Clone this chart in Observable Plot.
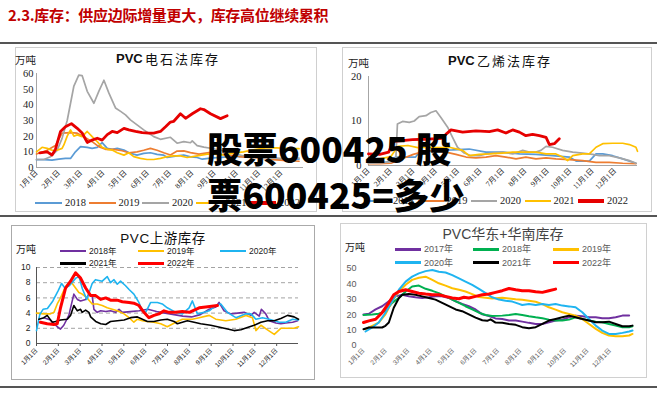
<!DOCTYPE html>
<html><head><meta charset="utf-8">
<script src="https://cdn.jsdelivr.net/npm/d3@7"></script>
<script src="https://cdn.jsdelivr.net/npm/@observablehq/plot@0.6"></script>
<style>
body{margin:0;background:#fff;}
#page{position:relative;width:665px;height:400px;overflow:hidden;background:#fff;font-family:'Noto Sans CJK SC',sans-serif;}
.abs{position:absolute;white-space:nowrap;line-height:1;}
.frame{position:absolute;box-sizing:border-box;pointer-events:none;}
</style></head><body><div id="page"></div>
<script>
// ---------------- DATA ----------------
const monthLabels = ["1月1日","2月1日","3月1日","4月1日","5月1日","6月1日","7月1日","8月1日","9月1日","10月1日","11月1日","12月1日"];
const headline = "2.3.库存：供应边际增量更大，库存高位继续累积";
const overlayLines = ["股票600425 股", "票600425=多少"];

// chart 1: PVC电石法库存 (x = month index from 1月1日, y = 万吨)
const elecYears = ["2018","2019","2020","2021","2022"];
const elec2018 = [[0,5],[0.33,5],[0.70,4.7],[1.0,5.4],[1.30,5.8],[1.53,5.8],[1.75,10],[1.98,13.3],[2.28,12.8],[2.50,12.2],[2.73,12.8],[2.95,15.9],[3.18,12.2],[3.40,11.6],[3.63,12.2],[3.93,11.1],[4.22,9],[4.52,7.9],[4.82,9],[5.12,9.4],[5.42,8.4],[5.72,7.9],[5.87,6.4],[6.32,7.4],[6.62,8],[6.92,6.8],[7.22,6.4],[7.45,5.3],[7.82,6],[8.3,6.5],[8.8,7],[9.3,7],[9.8,6.5],[10.3,6],[10.8,5.5],[11.3,5.5],[11.8,5.3]];
const elec2019 = [[0,8.6],[0.48,11],[0.85,14],[1.15,21.9],[1.53,22.3],[1.83,21.9],[2.13,19.7],[2.50,16.5],[2.80,13.3],[3.10,11.6],[3.48,11.6],[3.85,10.7],[4.15,9.4],[4.52,10],[4.82,11],[5.12,12.2],[5.42,11],[5.72,9.4],[6.02,8],[6.32,10.5],[6.62,10.6],[6.92,9.5],[7.30,8.5],[7.75,9.5],[8.1,8.5],[8.6,8],[9.1,7],[9.6,6.5],[10.1,6],[10.6,5],[11.1,4.5],[11.8,4]];
const elec2020 = [[0,5.1],[0.33,5.1],[0.63,6.9],[0.93,11],[1.15,18.6],[1.38,30],[1.68,52],[1.90,59],[2.05,58.7],[2.28,48.6],[2.58,41],[2.80,48.6],[3.03,55.7],[3.25,47.6],[3.55,38],[3.78,35.8],[4.0,33.6],[4.22,30.4],[4.52,27.2],[4.82,24],[5.27,19.7],[5.57,18],[6.02,19.3],[6.32,15.5],[6.62,16.5],[6.92,15.8],[7.0,17],[7.22,14],[7.52,13],[7.82,12.3],[8.3,11],[8.8,9],[9.3,7.5],[9.8,6.5],[10.3,6],[10.8,6],[11.3,5.5],[11.8,6]];
const elec2021 = [[0,10],[0.25,12.9],[0.48,12.2],[0.70,11],[0.93,11],[1.15,12.2],[1.23,14.4],[1.38,20],[1.53,24],[1.68,20],[1.83,20.8],[2.05,19.7],[2.28,23],[2.50,19.7],[2.73,16.5],[2.95,12.9],[3.18,11.6],[3.40,11.1],[3.63,9.4],[3.93,7.9],[4.15,9.4],[4.37,6.9],[4.67,5.8],[4.97,5.1],[5.27,5.1],[5.57,5.8],[5.87,6.9],[6.17,7.4],[6.47,7.4],[6.77,6.4],[7.22,7.4],[7.67,8.5],[8.0,8.5],[8.4,8],[8.8,9],[9.3,10],[9.8,11.5],[10.3,12.5],[10.8,12.5],[11.3,12],[11.8,12]];
const elec2022 = [[0.15,9.4],[0.48,10],[0.70,8],[0.85,11.5],[1.08,23],[1.30,26],[1.57,28],[1.83,25],[2.05,22],[2.28,16],[2.50,17.5],[2.73,18.7],[2.95,17.5],[3.18,21],[3.40,23],[3.63,22.3],[3.93,25],[4.15,24],[4.45,23],[4.75,22.3],[5.05,22],[5.27,22],[5.57,23],[5.80,26],[6.02,29],[6.17,29.5],[6.47,34.3],[6.70,31.4],[7.0,34.3],[7.37,37.5],[7.52,37],[7.82,34.3],[8.27,31.2],[8.57,33]];

// chart 2: PVC乙烯法库存
const ethYears = ["2018","2019","2020","2021","2022"];
const eth2018 = [[0,0.7],[0.77,0.7],[1.0,1.3],[1.22,1.9],[1.82,1.9],[2.1,1.9],[2.26,3],[3.01,3.4],[3.75,3.5],[4.49,3.7],[5.24,3],[5.98,3],[6.73,2.6],[7.47,2.5],[8.21,2.2],[8.96,1.9],[9.26,1],[9.85,1],[10.15,2.6],[10.45,2.6],[10.89,2.2],[11.34,1.5],[11.93,0.5]];
const eth2019 = [[0,0.4],[0.5,0.4],[1.0,0.5],[1.5,1.5],[2.0,2.5],[2.5,3.2],[3.01,3.4],[3.45,3],[3.90,2.5],[4.35,1.9],[4.79,1.7],[5.24,1.9],[5.68,2.2],[6.13,1.9],[6.58,1.5],[7.02,1.9],[7.47,1.5],[7.92,1.7],[8.36,1.5],[8.96,1.3],[9.55,1.1],[10.15,0.7],[10.74,0.7],[11.34,0.5],[11.93,0.4]];
const eth2020 = [[0,0.5],[0.5,0.6],[1.0,0.8],[1.22,1.5],[1.29,9.3],[1.52,9.9],[1.82,9.7],[2.04,10],[2.26,11],[2.56,11.2],[2.78,11.9],[3.01,12.3],[3.23,10.8],[3.53,8.6],[3.75,6.3],[3.97,4.1],[4.27,2.8],[4.57,2.2],[4.94,2.2],[5.24,2.6],[5.54,2.8],[5.98,3],[6.43,2.6],[6.88,3.4],[7.17,3],[7.47,3],[7.69,3.4],[7.92,4.3],[8.21,4.1],[8.66,3.4],[9.11,3],[9.55,2.8],[10.0,2.5],[10.30,2.2],[10.74,2.2],[11.19,1.7],[11.64,1.1],[11.93,0.5]];
const eth2021 = [[0,1.2],[0.5,1.5],[1.0,2],[1.31,4.3],[1.76,4.5],[2.2,4],[2.65,4.1],[3.24,4],[3.60,4.1],[4.20,3.4],[4.49,2.2],[4.94,2.5],[5.39,2.6],[5.98,2.8],[6.43,3],[6.88,3],[7.47,3],[7.92,2.6],[8.36,2.6],[8.66,1.9],[8.88,1.1],[9.11,2.2],[9.55,2.6],[9.85,2.6],[10.15,4.1],[10.45,4.9],[10.89,5],[11.34,5],[11.64,4.7],[11.93,4.1],[12.0,3.2]];
const eth2022 = [[0,2.6],[0.5,2.5],[0.9,3],[1.1,5.4],[1.5,5.6],[1.96,5.8],[2.5,5.9],[2.86,6],[3.3,6.1],[3.45,7],[3.68,8],[4.20,7.5],[4.79,7.8],[5.39,7.6],[5.76,8],[6.13,7.3],[6.43,8],[6.73,7.5],[7.02,6.7],[7.32,7],[7.62,6.7],[7.92,6.3],[8.07,4.7],[8.29,4.9],[8.51,6]];

// chart 3: PVC上游库存
const upYears = ["2018年","2019年","2020年","2021年","2022年"];
const up2018 = [[0.34,3.4],[0.64,3.1],[0.95,2.2],[1.10,1.9],[1.25,2.4],[1.48,3.7],[1.71,6.5],[1.87,5.8],[2.02,5.6],[2.25,5.8],[2.40,6.5],[2.55,6.3],[2.63,4.5],[2.78,4.1],[2.94,4.3],[3.17,4.2],[3.39,4.3],[3.62,4.1],[3.78,4.5],[3.93,4.1],[4.3,4.2],[4.7,4.3],[5.1,4.5],[5.5,4.2],[5.9,4.0],[6.3,3.8],[6.7,3.6],[7.1,3.5],[7.5,3.8],[7.91,4.5],[8.21,4.8],[8.36,5.4],[8.59,4.3],[8.90,3.9],[9.21,4],[9.51,4.1],[9.82,3.7],[9.97,4.1],[10.2,3.6],[10.3,4.5],[10.5,3.9],[10.66,3],[10.96,2.7],[11.19,2.6],[11.42,2.7],[11.73,2.8],[11.96,3]];
const up2019 = [[0,4],[0.34,3.9],[0.64,3.9],[0.80,4.1],[0.95,5.2],[1.10,6],[1.33,7.5],[1.56,8.2],[1.79,7.3],[1.94,6.7],[2.09,6.5],[2.32,6],[2.55,5.2],[2.78,5.2],[3.01,5],[3.24,4.7],[3.47,4.5],[3.70,4.3],[4.01,3.9],[4.24,3.4],[4.46,2.8],[4.62,3.2],[4.85,3],[5.08,2.9],[5.38,2.8],[5.69,2.6],[5.99,2.2],[6.38,2.8],[6.68,3.2],[7.14,3.2],[7.45,3.4],[7.91,3.7],[8.21,3.2],[8.67,3],[9.13,3.2],[9.59,3.7],[9.89,3.4],[10.05,1.7],[10.28,2.4],[10.58,1.8],[10.89,1.2],[11.19,2],[11.50,2],[11.80,2],[12.0,2.2]];
const up2020 = [[0,1.7],[0.15,3.8],[0.3,4.5],[0.5,4.6],[0.75,5.6],[1.0,7],[1.15,7.9],[1.3,7.3],[1.5,7.6],[1.8,8.6],[1.95,8.8],[2.1,7.2],[2.3,5.8],[2.55,7.9],[2.7,8.4],[3.01,8.2],[3.24,8.8],[3.39,8],[3.55,8.4],[3.70,7.8],[3.85,8.2],[4.08,7.6],[4.24,7.1],[4.46,6.5],[4.69,5.4],[4.85,4.3],[5.0,4.1],[5.23,5.4],[5.54,5.4],[5.76,5.2],[5.99,4.7],[6.38,4.1],[6.68,3.9],[6.99,4.7],[7.14,5.6],[7.37,3.9],[7.68,4.1],[7.91,4.3],[8.21,5],[8.44,5.2],[8.74,4.1],[9.13,3.4],[9.59,3.9],[9.82,3.9],[10.05,3.2],[10.35,3.4],[10.66,3.2],[11.12,2.8],[11.42,2.8],[11.73,3.2],[12.0,3.1]];
const up2021 = [[0.11,3.2],[0.34,3.4],[0.49,3.7],[0.72,2.8],[0.87,2.9],[1.10,3.1],[1.41,3.2],[1.56,3.7],[1.71,5.0],[1.87,4.3],[2.02,4.5],[2.09,4.1],[2.25,4.4],[2.40,4.1],[2.48,3.5],[2.71,2.9],[2.94,2.6],[3.17,2.5],[3.39,2.9],[3.70,3],[4.01,3.1],[4.31,3.4],[4.62,3.5],[4.85,3.2],[5.08,2.9],[5.38,2.9],[5.69,3.1],[5.99,3.2],[6.30,2.9],[6.45,2.6],[6.91,3],[7.22,2.8],[7.52,2.6],[7.98,2.4],[8.29,2.2],[8.75,1.9],[9.05,1.7],[9.36,1.8],[9.66,2.1],[9.97,2.4],[10.28,2.8],[10.58,3],[10.89,3],[11.19,3.3],[11.50,3.7],[11.80,3.5],[12.0,3.2]];
const up2022 = [[0.18,2.8],[0.49,2.6],[0.80,2.5],[0.95,2.6],[1.10,4.7],[1.33,7.3],[1.56,8.2],[1.79,9.3],[2.02,8.6],[2.25,7.3],[2.48,6.3],[2.71,6.3],[2.94,5.8],[3.17,6],[3.39,5.7],[3.70,5.7],[3.93,5.5],[4.24,5.4],[4.46,5.3],[4.69,5],[4.92,4.1],[5.15,3.4],[5.38,3.7],[5.61,3.9],[5.84,4.3],[6.07,4.1],[6.38,4.1],[6.68,4.2],[7.0,4.1],[7.45,4.7],[7.75,4.8],[8.29,5.0]];

// chart 4: PVC华东+华南库存
const ecYears = ["2017年","2018年","2019年","2020年","2021年","2022年"];
const ec2017 = [[0,20.2],[0.24,20.6],[0.54,23.4],[0.83,25.5],[1.13,28.7],[1.43,31.9],[1.73,33],[2.02,31.9],[2.32,31.3],[2.62,30.9],[2.92,31.3],[3.21,31.9],[3.51,31.9],[3.81,30.9],[4.11,28.7],[4.40,27],[4.70,25.5],[5.0,23.4],[5.30,20.2],[5.60,19.1],[5.89,17.6],[6.19,17.2],[6.49,16.2],[6.79,16.2],[7.08,15.5],[7.38,14.7],[7.68,14],[7.98,14],[8.27,15.1],[8.57,16.2],[8.87,16.8],[9.17,18.3],[9.46,19.4],[9.76,19],[10.06,18.3],[10.36,18.3],[10.65,17.7],[10.95,17.7],[11.25,18.3],[11.55,19.4],[11.85,19.4]];
const ec2018 = [[0,19.8],[0.39,20.2],[0.68,20.6],[0.98,22.3],[1.28,27.7],[1.58,30.9],[1.88,35.1],[2.17,38.3],[2.47,38.9],[2.77,36.8],[3.07,35.5],[3.36,34],[3.66,31.9],[3.96,29.8],[4.26,27.7],[4.55,25.5],[4.85,23.4],[5.15,21.3],[5.45,19.8],[5.74,19.1],[6.19,19.4],[6.49,19.8],[6.79,20.5],[7.08,19.8],[7.38,19],[7.68,18.3],[7.98,17.7],[8.27,16.8],[8.57,16.2],[8.87,16.2],[9.17,16.8],[9.46,18.3],[9.76,17.2],[10.06,16.2],[10.36,15.5],[10.65,15.1],[10.95,14],[11.25,12.9],[11.55,11.9],[11.85,11.9],[12.0,12.5]];
const ec2019 = [[0.09,10.6],[0.39,12.8],[0.68,14.9],[0.98,20.2],[1.28,28.7],[1.58,35.1],[1.88,39.4],[2.17,42.6],[2.47,44],[2.77,44.7],[3.07,42.6],[3.36,40.4],[3.66,38.9],[3.96,37.2],[4.26,36.2],[4.55,35.1],[4.85,33.4],[5.15,31.5],[5.45,31],[5.74,30.5],[6.19,31],[6.49,30.5],[6.79,30],[7.08,29.7],[7.38,29.1],[7.68,28.4],[7.98,26.9],[8.27,24.8],[8.57,23.3],[8.87,21.6],[9.17,20.5],[9.46,19.4],[9.76,17.2],[10.06,14],[10.36,10.8],[10.65,8.2],[10.95,6.5],[11.25,6],[11.55,6],[11.85,6.5],[12.0,7.5]];
const ec2020 = [[0.09,9.1],[0.39,11.7],[0.68,14.9],[0.98,21.3],[1.28,28.7],[1.58,36.2],[1.88,41.5],[2.17,44.7],[2.47,46.8],[2.77,48.3],[3.07,49],[3.36,47.9],[3.66,47.4],[3.96,45.7],[4.26,43.6],[4.55,41.5],[4.85,39.4],[5.15,36.8],[5.45,34],[5.74,31.3],[6.04,29.8],[6.34,29],[6.64,28.5],[6.94,27],[7.08,26.3],[7.38,26.9],[7.68,26.3],[7.98,26.9],[8.27,26.3],[8.57,26.9],[8.87,25.9],[9.17,25.4],[9.46,24.8],[9.76,21.6],[10.06,17.2],[10.36,12.9],[10.65,9.7],[10.95,7.5],[11.25,7.5],[11.55,8.2],[11.85,9.1],[12.0,9.7]];
const ec2021 = [[0,10.6],[0.24,11.7],[0.54,11.7],[0.83,11.7],[0.98,12.8],[1.13,14.9],[1.35,24.5],[1.58,30.9],[1.73,33],[2.02,33.4],[2.32,33],[2.62,31.9],[2.92,30.9],[3.21,29.8],[3.51,27.7],[3.81,25.5],[4.11,23.4],[4.40,22.3],[4.70,20.2],[5.0,18.1],[5.30,16.4],[5.52,16],[5.67,17],[5.89,14.9],[6.19,14.7],[6.49,14],[6.79,13.4],[7.08,11.9],[7.38,11.2],[7.68,11.9],[7.98,14],[8.27,16.2],[8.57,17.2],[8.87,18.3],[9.17,19.4],[9.46,18.3],[9.76,17.2],[10.06,16.2],[10.36,15.1],[10.65,15.1],[10.95,15.5],[11.25,14],[11.55,12.5],[11.85,12.5],[12.0,12.9]];
const ec2022 = [[0,14.9],[0.24,16],[0.54,17],[0.83,21.3],[1.13,27.7],[1.35,33],[1.58,35.1],[1.88,36.2],[2.17,35.1],[2.47,34],[2.77,33.4],[3.07,33],[3.36,33],[3.66,31.9],[3.96,30.9],[4.26,30.4],[4.48,31.3],[4.70,30.9],[5.0,31.9],[5.30,33],[5.60,33.4],[5.89,34.5],[6.19,35.6],[6.49,37],[6.79,36.2],[7.08,35.6],[7.38,35.6],[7.68,34.9],[7.98,34.5],[8.27,35.6],[8.57,36.6]];

// ---------------- LAYOUT HELPERS ----------------
const page = document.getElementById("page");
const SERIF = "'Liberation Serif','Noto Sans CJK SC',serif";
const SANS = "'Liberation Sans','Noto Sans CJK SC',sans-serif";
const CJK = "'Noto Sans CJK SC',sans-serif";

function el(tag, css, html) {
  const e = document.createElement(tag);
  e.style.cssText = css;
  if (html !== undefined) e.innerHTML = html;
  page.appendChild(e);
  return e;
}
function text(str, x, y, css, anchor) {
  const tr = anchor === "middle" ? "translate(-50%,-50%)" : "translate(0,-50%)";
  const e = el("div", `left:${x}px;top:${y}px;transform:${tr};${css}`);
  e.className = "abs";
  e.textContent = str;
  return e;
}
function hline(x, y, w, h, color) {
  el("div", `position:absolute;left:${x}px;top:${y}px;width:${w}px;height:${h}px;background:${color};`);
}

function chart(cfg) {
  const marks = [];
  if (cfg.grid) marks.push(Plot.ruleY(cfg.grid, {stroke: "#8c8c8c", strokeWidth: 0.8, strokeDasharray: "4,3"}));
  marks.push(Plot.axisY({ticks: cfg.yTicks, tickSize: 0, tickPadding: cfg.yPad, fontSize: cfg.yFont, fontFamily: cfg.yFamily, color: cfg.labelColor}));
  marks.push(Plot.axisX({ticks: d3.range(12), tickFormat: i => monthLabels[i], tickRotate: -45, tickSize: cfg.xTick, tickPadding: cfg.xPad, fontSize: cfg.xFont, fontFamily: cfg.xFamily, color: cfg.labelColor, stroke: cfg.axisColor}));
  if (cfg.axisColor) {
    marks.push(Plot.ruleX([0], {stroke: cfg.axisColor, strokeWidth: 1}));
    marks.push(Plot.ruleY([0], {stroke: cfg.axisColor, strokeWidth: 1}));
  }
  cfg.series.forEach(s => marks.push(Plot.line(s.data, {x: d => d[0], y: d => d[1], stroke: s.color, strokeWidth: s.w, strokeLinejoin: "round", strokeLinecap: "round"})));
  const svg = Plot.plot({
    width: cfg.w, height: cfg.h,
    marginLeft: cfg.ml, marginRight: cfg.mr, marginTop: cfg.mt, marginBottom: cfg.mb,
    x: {domain: [0, 12]},
    y: {domain: cfg.yDomain},
    style: {background: "transparent", overflow: "visible", fontFamily: cfg.yFamily},
    marks
  });
  const wrap = el("div", `position:absolute;left:${cfg.left}px;top:${cfg.top}px;width:${cfg.w}px;height:${cfg.h}px;`);
  wrap.appendChild(svg);
  const fr = el("div", `left:${cfg.left}px;top:${cfg.top}px;width:${cfg.w}px;height:${cfg.h}px;border:1px solid ${cfg.frame};`);
  fr.className = "frame";
}

function legend(items, css) {
  items.forEach(it => {
    el("div", `position:absolute;left:${it.x}px;top:${it.y - it.w / 2}px;width:${it.len}px;height:${it.w}px;background:${it.color};`);
    text(it.label, it.x + it.len + it.gap, it.y, css);
  });
}

// ---------------- HEADER & RULES ----------------
text(headline, 8, 14, `font-family:${CJK};font-weight:bold;font-size:15px;color:#c00000;letter-spacing:-0.3px;`);
hline(0, 42, 657, 2, "#555");
hline(0, 215, 657, 2, "#555");
hline(0, 386, 657, 2, "#555");

// ---------------- CHART 1 ----------------
const c1Colors = ["#5b9bd5", "#ed7d31", "#a5a5a5", "#ffc000", "#e60000"];
const elecData = [elec2018, elec2019, elec2020, elec2021, elec2022];
chart({
  left: 15, top: 47, w: 302, h: 165, ml: 21, mr: 14, mt: 26, mb: 45,
  yDomain: [0, 60], yTicks: [0, 10, 20, 30, 40, 50, 60], yPad: 3, yFont: 10.5, yFamily: SERIF,
  xTick: 0, xPad: 4, xFont: 7.5, xFamily: SERIF, labelColor: "#222", axisColor: "#a6a6a6", frame: "#cfcfcf",
  series: elecData.map((d, i) => ({data: d, color: c1Colors[i], w: i === 4 ? 2.8 : 1.7}))
});
text("PVC", 116, 58, `font-family:${SANS};font-weight:bold;font-size:13px;color:#111;`);
text("电石法库存", 145, 58, `font-family:${CJK};font-size:13px;color:#111;letter-spacing:2px;`);
text("万吨", 15, 60, `font-family:${CJK};font-size:10.5px;color:#222;`);
legend(elecYears.map((lab, i) => ({label: lab, color: c1Colors[i], x: 35 + 53.5 * i, y: 203, len: 27, gap: 3, w: i === 4 ? 3.5 : 2})),
  `font-family:${SERIF};font-size:10.5px;color:#222;`);

// ---------------- CHART 2 ----------------
const ethData = [eth2018, eth2019, eth2020, eth2021, eth2022];
chart({
  left: 342, top: 47, w: 310, h: 165, ml: 26, mr: 15, mt: 29, mb: 47,
  yDomain: [0, 20], yTicks: [0, 10, 20], yPad: 7, yFont: 10.5, yFamily: SERIF,
  xTick: 0, xPad: 4, xFont: 7.5, xFamily: SERIF, labelColor: "#222", axisColor: "#a6a6a6", frame: "#cfcfcf",
  series: ethData.map((d, i) => ({data: d, color: c1Colors[i], w: i === 4 ? 2.8 : 1.7}))
});
text("PVC", 448, 60, `font-family:${SANS};font-weight:bold;font-size:13px;color:#111;`);
text("乙烯法库存", 477, 60, `font-family:${CJK};font-size:13px;color:#111;letter-spacing:2px;`);
text("万吨", 348, 63, `font-family:${CJK};font-size:10.5px;color:#222;`);
legend(ethYears.map((lab, i) => ({label: lab, color: c1Colors[i], x: 364 + 53.5 * i, y: 201, len: 26, gap: 3, w: i === 4 ? 3.5 : 2})),
  `font-family:${SERIF};font-size:10.5px;color:#222;`);

// ---------------- CHART 3 ----------------
const c3Colors = ["#7030a0", "#ffc000", "#1fb4f0", "#000000", "#ff0000"];
const upData = [up2018, up2019, up2020, up2021, up2022];
chart({
  left: 11, top: 225, w: 304, h: 155, ml: 25, mr: 17, mt: 42, mb: 37,
  yDomain: [0, 10], yTicks: [0, 2, 4, 6, 8, 10], grid: [2, 4, 6, 8, 10], yPad: 6, yFont: 8.5, yFamily: SANS,
  xTick: 3, xPad: 3, xFont: 6.5, xFamily: SANS, labelColor: "#222", axisColor: "#555", frame: "#aaa",
  series: upData.map((d, i) => ({data: d, color: c3Colors[i], w: i === 4 ? 3 : 1.6}))
});
text("PVC上游库存", 163, 239, `font-family:${SANS};font-size:13.5px;color:#111;letter-spacing:0.5px;`, "middle");
text("万吨", 16, 249, `font-family:${CJK};font-size:10px;color:#222;`);
const c3Pos = [[60, 251], [138, 251], [220, 251], [60, 263.3], [138, 263.3]];
legend(upYears.map((lab, i) => ({label: lab, color: c3Colors[i], x: c3Pos[i][0], y: c3Pos[i][1], len: 26, gap: 3, w: i === 4 ? 3.5 : 2.5})),
  `font-family:${SANS};font-size:8.5px;color:#222;`);

// ---------------- CHART 4 ----------------
const c4Colors = ["#7030a0", "#00b050", "#ffc000", "#1fb4f0", "#000000", "#ff0000"];
const ecData = [ec2017, ec2018, ec2019, ec2020, ec2021, ec2022];
chart({
  left: 340, top: 223, w: 307, h: 155, ml: 23, mr: 15, mt: 45, mb: 33,
  yDomain: [0, 50], yTicks: [0, 10, 20, 30, 40, 50], yPad: 7, yFont: 9, yFamily: SANS,
  xTick: 0, xPad: 4, xFont: 6.5, xFamily: SANS, labelColor: "#595959", axisColor: null, frame: "#d0d0d0",
  series: ecData.map((d, i) => ({data: d, color: c4Colors[i], w: i === 5 ? 3 : 2}))
});
text("PVC华东+华南库存", 503, 234, `font-family:${SANS};font-size:14px;color:#444;`, "middle");
text("万吨", 345, 247, `font-family:${CJK};font-size:10px;color:#222;`);
const c4Pos = [[395, 249.3], [473, 249.3], [553, 249.3], [395, 262.7], [473, 262.7], [553, 262.7]];
legend(ecYears.map((lab, i) => ({label: lab, color: c4Colors[i], x: c4Pos[i][0], y: c4Pos[i][1], len: 26, gap: 3, w: i === 5 ? 3.5 : 2.5})),
  `font-family:${SANS};font-size:9px;color:#595959;`);

// ---------------- OVERLAY ----------------
const ov = el("div", `left:207px;top:125px;font-family:${CJK};font-weight:900;font-size:35.5px;line-height:46px;color:#000;`);
ov.className = "abs";
overlayLines.forEach((ln, i) => {
  const d = document.createElement("div");
  d.textContent = ln;
  ov.appendChild(d);
});
</script></body></html>
